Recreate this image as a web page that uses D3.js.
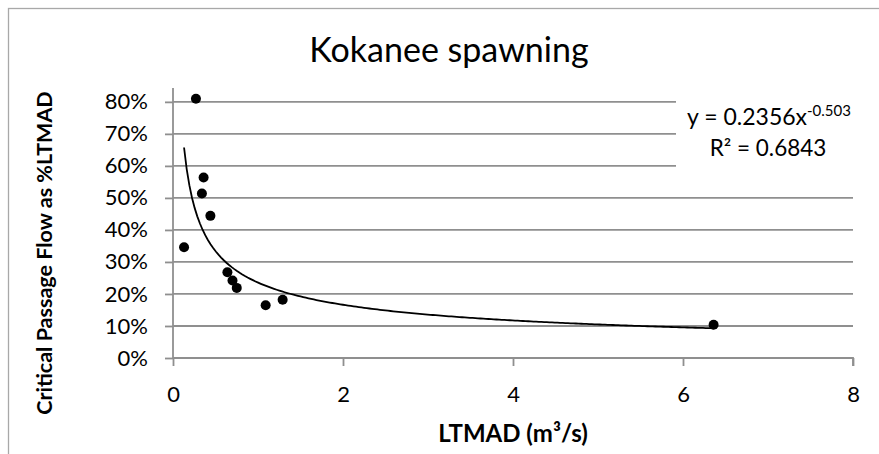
<!DOCTYPE html>
<html>
<head>
<meta charset="utf-8">
<script src="https://cdn.jsdelivr.net/npm/d3@7"></script>
<style>
  body { margin: 0; background: #fff; }
  svg { display: block; font-family: Lato, "Open Sans", sans-serif; }
</style>
</head>
<body>
<svg id="chart" width="879" height="454"></svg>
<script>
// datos
var ltmad = [0.13, 0.27, 0.34, 0.36, 0.44, 0.64, 0.70, 0.75, 1.09, 1.29, 6.36];
var flujoCritico = [0.346, 0.81, 0.514, 0.564, 0.444, 0.268, 0.242, 0.219, 0.165, 0.182, 0.104];
var xTicks = [0, 2, 4, 6, 8];
var yTicks = [0, 0.1, 0.2, 0.3, 0.4, 0.5, 0.6, 0.7, 0.8];

// linea de tendencia potencial: y = a * x^b
var coefA = 0.2356, coefB = -0.503;
var textoEcuacion = 'y = 0.2356x', textoExponente = '-0.503', textoR2 = 'R² = 0.6843';

var gris = '#8f8f8f';
var svg = d3.select('#chart');

// borde del area del grafico
svg.append('rect')
  .attr('x', 8.5).attr('y', 8.5)
  .attr('width', 900).attr('height', 500)
  .attr('fill', 'none').attr('stroke', '#a8a8a8').attr('stroke-width', 1.3);

var x = d3.scaleLinear().domain([0, 8]).range([173, 853]);
var y = d3.scaleLinear().domain([0, 0.8433]).range([358, 88]);

// rejilla horizontal
svg.append('g')
  .selectAll('line')
  .data(yTicks.slice(1))
  .join('line')
  .attr('x1', x(0)).attr('x2', x(8))
  .attr('y1', d => y(d)).attr('y2', d => y(d))
  .attr('stroke', gris).attr('stroke-width', 1.8);

// eje Y
var ejeY = svg.append('g')
  .attr('transform', 'translate(' + x(0) + ',0)')
  .call(d3.axisLeft(y).tickValues(yTicks).tickSize(8).tickPadding(17).tickFormat(d3.format('.0%')));
ejeY.selectAll('path, line').attr('stroke', gris).attr('stroke-width', 1.8);
ejeY.select('path').attr('d', 'M0,' + y(0) + 'V' + y.range()[1]);
ejeY.selectAll('text').attr('font-size', 22).attr('fill', '#000').attr('font-family', 'Lato');

// eje X
var ejeX = svg.append('g')
  .attr('transform', 'translate(0,' + y(0) + ')')
  .call(d3.axisBottom(x).tickValues(xTicks).tickSize(8).tickPadding(20).tickFormat(d3.format('d')));
ejeX.selectAll('path, line').attr('stroke', gris).attr('stroke-width', 1.8);
ejeX.select('path').attr('d', 'M' + x(0) + ',0H' + x(8) + 'V8');
ejeX.selectAll('text').attr('font-size', 22).attr('fill', '#000').attr('font-family', 'Lato');

// curva de tendencia
var xMin = d3.min(ltmad), xMax = d3.max(ltmad);
var tendencia = d3.range(0, 201).map(function (i) {
  var xv = xMin + (xMax - xMin) * i / 200;
  return [xv, coefA * Math.pow(xv, coefB)];
});
svg.append('path')
  .datum(tendencia)
  .attr('fill', 'none')
  .attr('stroke', '#000')
  .attr('stroke-width', 1.8)
  .attr('d', d3.line().x(d => x(d[0])).y(d => y(d[1])));

// puntos
svg.append('g')
  .selectAll('circle')
  .data(ltmad)
  .join('circle')
  .attr('cx', d => x(d))
  .attr('cy', (d, i) => y(flujoCritico[i]))
  .attr('r', 5)
  .attr('fill', '#000');

// etiqueta de la ecuacion (tapa la rejilla)
svg.append('rect')
  .attr('x', 676).attr('y', 92).attr('width', 185).attr('height', 86)
  .attr('fill', '#fff');
var eq = svg.append('text')
  .attr('x', 769).attr('y', 125)
  .attr('text-anchor', 'middle')
  .attr('font-size', 23);
eq.append('tspan').text(textoEcuacion);
eq.append('tspan').attr('font-size', 15).attr('dy', -9).text(textoExponente);
svg.append('text')
  .attr('x', 768).attr('y', 156)
  .attr('text-anchor', 'middle')
  .attr('font-size', 22.5)
  .text(textoR2);

// titulos
svg.append('text')
  .attr('x', 449).attr('y', 62)
  .attr('text-anchor', 'middle')
  .attr('font-size', 34)
  .text('Kokanee spawning');

svg.append('text')
  .attr('x', 513).attr('y', 442)
  .attr('text-anchor', 'middle')
  .attr('font-size', 24)
  .attr('font-weight', 'bold')
  .text('LTMAD (m³/s)');

svg.append('text')
  .attr('transform', 'translate(52,253) rotate(-90)')
  .attr('text-anchor', 'middle')
  .attr('font-size', 21.5)
  .attr('font-weight', 'bold')
  .text('Critical Passage Flow as %LTMAD');
</script>
</body>
</html>
